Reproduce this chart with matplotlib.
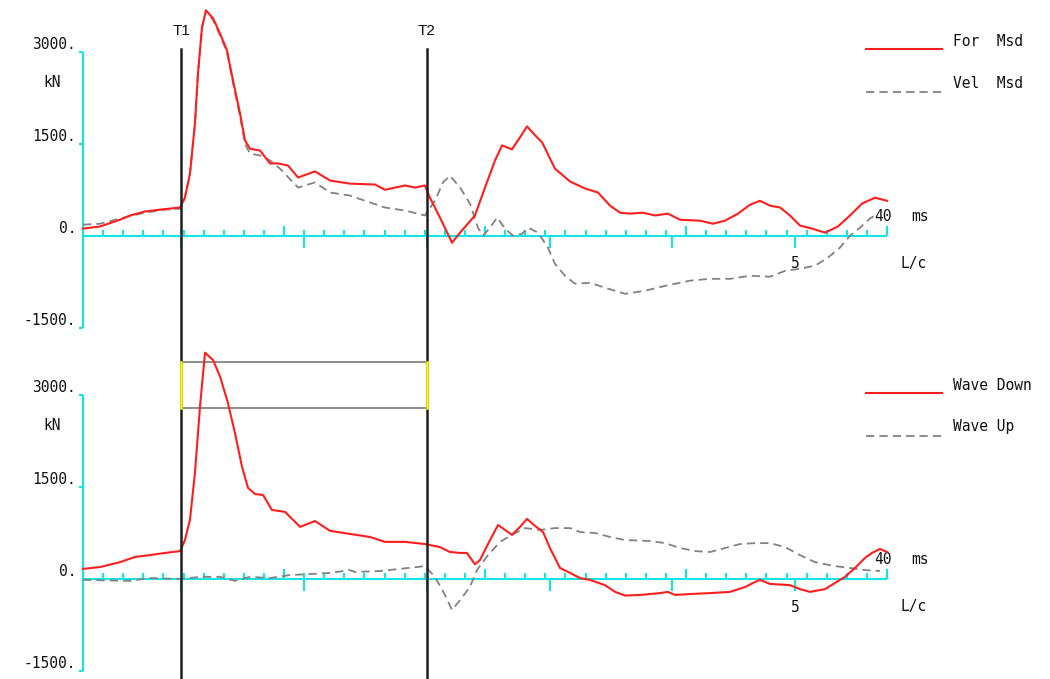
import matplotlib
matplotlib.use("Agg")
import matplotlib.pyplot as plt
from matplotlib.lines import Line2D
from matplotlib.transforms import blended_transform_factory

# ---------------- data ----------------
T1 = 4.88            # ms
LC = 6.11            # ms per L/c
T2 = T1 + 2 * LC
T_END = 40.0
Y_MIN, Y_MAX = -1500, 3000

y_ticks = [3000, 1500, 0, -1500]
y_tick_labels = ["3000.", "1500.", "0.", "-1500."]
lc_label = 5

# Force measured (kN)
for_t = [0.00, 0.85, 1.84, 2.34, 3.08, 3.83, 4.83, 5.07, 5.32, 5.57, 5.72, 5.92,
         6.12, 6.47, 6.82, 7.16, 7.46, 7.81, 8.06, 8.31, 8.81, 9.30, 9.70, 10.20,
         10.70, 11.54, 12.29, 13.28, 14.53, 15.02, 15.52, 16.02, 16.52, 17.01,
         17.26, 17.76, 18.36, 18.76, 19.50, 20.00, 20.50, 20.85, 21.34, 21.74,
         22.09, 22.49, 22.84, 23.48, 24.23, 24.98, 25.62, 26.22, 26.72, 27.21,
         27.86, 28.46, 29.10, 29.70, 30.70, 31.34, 31.94, 32.59, 33.18, 33.68,
         34.18, 34.68, 35.17, 35.67, 36.27, 36.92, 37.56, 38.16, 38.76, 39.40, 40.00]
for_kn = [115, 150, 260, 330, 395, 425, 460, 620, 1010, 1830, 2650, 3400,
          3680, 3550, 3300, 3030, 2540, 2000, 1555, 1420, 1390, 1180, 1180, 1145,
          950, 1050, 900, 850, 835, 750, 785, 820, 785, 820,
          620, 295, -115, 50, 330, 785, 1230, 1475, 1410, 1605,
          1785, 1640, 1525, 1095, 885, 770, 705, 490, 375, 360,
          375, 330, 360, 260, 245, 195, 245, 360, 505, 570,
          490, 460, 330, 165, 115, 50, 150, 330, 525, 620, 570]

# Velocity measured, scaled to force units (kN)
vel_t = [0.00, 0.85, 1.84, 3.08, 4.08, 4.83, 5.07, 5.32, 5.57, 5.72, 5.92, 6.12,
         6.47, 6.82, 7.16, 7.46, 7.81, 8.06, 8.31, 8.81, 9.30, 9.80, 10.70, 11.54,
         12.29, 13.28, 14.03, 15.02, 16.02, 17.01, 17.51, 17.91, 18.26, 18.76,
         19.25, 19.65, 19.90, 20.25, 20.60, 21.00, 21.39, 21.84, 22.14, 22.64,
         23.13, 23.48, 23.98, 24.48, 25.22, 25.97, 26.97, 27.96, 28.96, 30.20,
         31.19, 32.19, 33.18, 34.18, 34.93, 35.67, 36.42, 37.06, 37.66, 38.16,
         38.66, 39.15, 39.40]
vel_kn = [180, 195, 280, 375, 425, 440, 620, 1010, 1830, 2650, 3400, 3680,
          3520, 3270, 3000, 2500, 1950, 1500, 1340, 1310, 1230, 1095, 785, 870,
          705, 655, 570, 460, 410, 330, 570, 870, 980, 785,
          525, 130, 0, 130, 295, 115, 0, 30, 130, 50,
          -195, -460, -655, -785, -770, -850, -950, -900, -820, -735,
          -705, -705, -655, -670, -575, -540, -490, -360, -195, 0,
          130, 280, 330]

# Wave down (kN)
wd_t = [0.00, 0.85, 1.84, 2.59, 3.33, 4.08, 4.83, 5.07, 5.32, 5.57, 5.82, 6.07,
        6.47, 6.82, 7.21, 7.56, 7.91, 8.21, 8.56, 8.96, 9.40, 10.05, 10.80, 11.54,
        12.29, 13.28, 14.28, 15.02, 16.02, 17.01, 17.76, 18.26, 18.76, 19.10,
        19.50, 19.75, 20.25, 20.65, 21.34, 21.74, 22.09, 22.49, 22.89, 23.23,
        23.73, 24.23, 24.73, 25.22, 25.97, 26.47, 26.97, 27.71, 28.71, 29.10,
        29.45, 30.20, 31.19, 32.19, 32.94, 33.43, 33.68, 34.18, 35.17, 35.67,
        36.17, 36.92, 37.41, 37.91, 38.41, 38.91, 39.25, 39.65, 40.00]
wd_kn = [165, 195, 275, 360, 390, 425, 455, 635, 960, 1730, 2810, 3690,
         3570, 3300, 2870, 2380, 1830, 1485, 1385, 1370, 1125, 1095, 850, 945,
         785, 735, 685, 605, 605, 570, 520, 440, 425, 425,
         240, 310, 635, 880, 720, 850, 980, 865, 765, 505,
         180, 100, 15, -15, -100, -210, -270, -260, -230, -210,
         -260, -245, -230, -210, -130, -50, -15, -80, -100, -165,
         -210, -165, -65, 35, 180, 345, 425, 490, 440]

# Wave up (kN)
wu_t = [0.00, 2.34, 3.33, 4.88, 5.82, 6.82, 7.56, 8.31, 9.30, 10.30, 11.29, 12.29,
        13.28, 13.53, 14.78, 15.77, 17.01, 17.51, 18.01, 18.36, 18.76, 19.25,
        19.60, 20.15, 20.75, 21.34, 21.99, 22.74, 23.48, 24.23, 24.73, 25.47,
        26.22, 26.97, 28.21, 28.96, 29.70, 30.45, 31.19, 31.94, 32.69, 33.43,
        34.18, 34.93, 35.67, 36.42, 37.41, 38.16, 38.91, 39.65]
wu_kn = [-15, -30, 15, 0, 35, 35, -30, 35, 15, 65, 80, 100,
         145, 115, 130, 165, 210, 35, -260, -505, -345, -130,
         145, 390, 605, 720, 830, 800, 830, 830, 765, 750,
         685, 635, 620, 585, 505, 455, 440, 505, 570, 585,
         585, 520, 390, 275, 210, 180, 145, 130]

# Upper and lower reference levels between T1 and T2 (kN)
box_levels = [2790, 3540]

# ---------------- style ----------------
W, H = 1050, 679
RED = "#ff1e1e"
GRAY = "#828282"
CYAN = "#14e4e4"
BLACK = "#1e1e1e"
YELLOW = "#ffff00"
MONO = "DejaVu Sans Mono"
TXT = "#111111"
PT = 72 / 100  # points per pixel

fig = plt.figure(figsize=(W / 100, H / 100), dpi=100)
fig.patch.set_facecolor("white")


def box(l, t, r, b):
    return [l / W, 1 - b / H, (r - l) / W, (b - t) / H]


ax_top = fig.add_axes(box(83, 52, 887, 327.5))
ax_bot = fig.add_axes(box(83, 395, 887, 671))

for ax in (ax_top, ax_bot):
    ax.set_xlim(0, T_END)
    ax.set_ylim(Y_MIN, Y_MAX)
    ax.axis("off")
    ax.patch.set_visible(False)


def label(ax, text, xy, dx, dy, ha):
    ax.annotate(text, xy=xy, xytext=(dx * PT, dy * PT),
                textcoords="offset points", ha=ha, va="center",
                fontsize=10.5, family=MONO, color=TXT)


def draw_frame(ax):
    pos = ax.get_position()
    sx = pos.width * W / T_END
    sy = pos.height * H / (Y_MAX - Y_MIN)
    kw = dict(color=CYAN, lw=1.5, clip_on=False)
    ax.plot([0, T_END], [0, 0], solid_capstyle="butt", **kw)
    ax.plot([0, 0], [Y_MIN, Y_MAX], solid_capstyle="butt", **kw)
    for v in (Y_MAX, 1500, Y_MIN):
        ax.plot([-4 / sx, 0], [v, v], solid_capstyle="butt", **kw)
    ms = list(range(1, int(T_END) + 1))
    heights = [(10 if m % 10 == 0 else 6) / sy for m in ms]
    ax.vlines(ms, 0, heights, **kw)
    lc_x = [T1 + k * LC for k in range(0, 6)]
    ax.vlines(lc_x, -12 / sy, 0, **kw)

    for v, lab in zip(y_ticks, y_tick_labels):
        label(ax, lab, (0, v), -7, 7.5, "right")
    label(ax, "kN", (0, 2500), -31, 0, "center")
    label(ax, "40", (T_END, 0), -4, 19, "center")
    label(ax, "ms", (T_END, 0), 24, 19, "left")
    label(ax, str(lc_label), (T1 + lc_label * LC, 0), 0, -28, "center")
    label(ax, "L/c", (T_END, 0), 13, -28, "left")


draw_frame(ax_top)
draw_frame(ax_bot)

dash = (4.6, 2.8)
ax_top.plot(vel_t, vel_kn, color=GRAY, lw=1.3, dashes=dash, clip_on=False, zorder=3)
ax_top.plot(for_t, for_kn, color=RED, lw=1.5, clip_on=False, zorder=4)
ax_bot.plot(wu_t, wu_kn, color=GRAY, lw=1.3, dashes=dash, clip_on=False, zorder=3)
ax_bot.plot(wd_t, wd_kn, color=RED, lw=1.5, clip_on=False, zorder=4)

# reference levels between the T1 and T2 markers
ax_bot.hlines(box_levels, T1, T2, color="#7a7a7a", lw=1.2, clip_on=False)

# T1 / T2 markers running through both panels
tr = blended_transform_factory(ax_top.transData, fig.transFigure)
for t, lab in ((T1, "T1"), (T2, "T2")):
    fig.add_artist(Line2D([t, t], [1 - 49 / H, 0], transform=tr,
                          color=BLACK, lw=1.8, zorder=2.5))
    fig.text(t, 1 - 31 / H, lab, transform=tr, ha="center", va="center",
             fontsize=11, family="Liberation Sans", color=TXT)
    fig.add_artist(Line2D([t, t], box_levels, transform=ax_bot.transData,
                          color=YELLOW, lw=1.8, zorder=3))

# legends
ov = fig.add_axes([0, 0, 1, 1], zorder=-1)
ov.set_xlim(0, W)
ov.set_ylim(H, 0)
ov.axis("off")
ov.patch.set_visible(False)
legend_items = [
    (49, 42, RED, None, "For  Msd"),
    (92, 83, GRAY, dash, "Vel  Msd"),
    (393, 385, RED, None, "Wave Down"),
    (436, 427, GRAY, dash, "Wave Up"),
]
for ly, ty, col, dsh, lab in legend_items:
    if dsh is None:
        ov.plot([866, 942], [ly, ly], color=col, lw=1.5)
    else:
        ov.plot([866, 942], [ly, ly], color=col, lw=1.3, dashes=dsh)
    ov.text(953, ty, lab, ha="left", va="center", fontsize=10.5,
            family=MONO, color=TXT)

fig.savefig("out.png", dpi=100, facecolor="white")
